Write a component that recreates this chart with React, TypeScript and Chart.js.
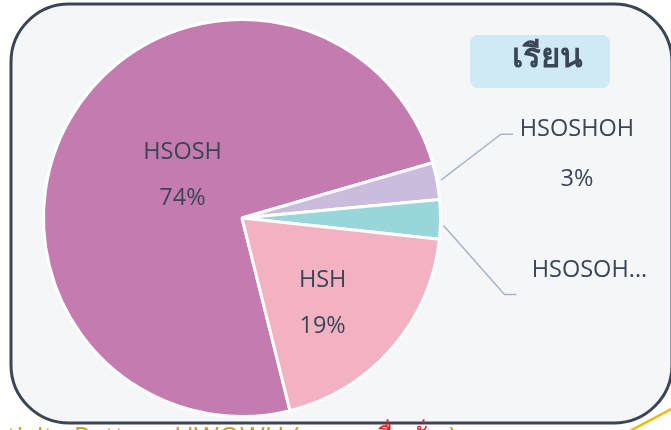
import React, { useEffect, useRef } from "react";
import { Chart, registerables } from "chart.js";

Chart.register(...registerables);

const categories = ["HSOSH", "HSOSHOH", "HSOSOH", "HSH"];
const shares = [74.4, 3.0, 3.2, 19.4];
const sliceColors = ["#c47bb0", "#c9bcdc", "#98d6db", "#f2b2c2"];
const titleText = "เรียน";
const footerLead = "ctivity Pattern HWOWH (";
const footerThai = "ความเชื่อมั่น";
const footerTail = ")";

const INK = "#3a4556";
const FONT = "'Open Sans', 'Noto Sans', sans-serif";

function roundRect(ctx: CanvasRenderingContext2D, x: number, y: number, w: number, h: number, r: number) {
  ctx.beginPath();
  ctx.moveTo(x + r, y);
  ctx.lineTo(x + w - r, y);
  ctx.arcTo(x + w, y, x + w, y + r, r);
  ctx.lineTo(x + w, y + h - r);
  ctx.arcTo(x + w, y + h, x + w - r, y + h, r);
  ctx.lineTo(x + r, y + h);
  ctx.arcTo(x, y + h, x, y + h - r, r);
  ctx.lineTo(x, y + r);
  ctx.arcTo(x, y, x + r, y, r);
  ctx.closePath();
}

const framePlugin = {
  id: "frame",
  beforeDraw(chart: any) {
    const ctx = chart.ctx as CanvasRenderingContext2D;
    ctx.save();
    roundRect(ctx, 11, 4, 661, 419, 58);
    ctx.fillStyle = "#f4f6f8";
    ctx.fill();
    ctx.lineWidth = 3;
    ctx.strokeStyle = INK;
    ctx.stroke();

    // title box
    roundRect(ctx, 470, 35, 140, 53, 8);
    ctx.fillStyle = "#d0eaf5";
    ctx.fill();
    ctx.fillStyle = INK;
    ctx.font = `bold 33px ${FONT}`;
    ctx.textAlign = "center";
    ctx.textBaseline = "middle";
    ctx.fillText(titleText, 547, 58);

    // footer text (cut off at bottom)
    ctx.textAlign = "left";
    ctx.textBaseline = "alphabetic";
    ctx.font = `27px ${FONT}`;
    let x = -6;
    ctx.fillStyle = "#c9a21c";
    ctx.fillText(footerLead, x, 447);
    x += ctx.measureText(footerLead).width;
    ctx.fillStyle = "#e8201c";
    ctx.fillText(footerThai, x, 447);
    x += ctx.measureText(footerThai).width;
    ctx.fillStyle = "#c9a21c";
    ctx.fillText(footerTail, x + 4, 447);

    // yellow stroke bottom-right
    ctx.beginPath();
    ctx.moveTo(628, 432);
    ctx.lineTo(673, 408);
    ctx.lineWidth = 2.5;
    ctx.strokeStyle = "#f5b800";
    ctx.stroke();
    ctx.restore();
  },
};

const labelPlugin = {
  id: "sliceLabels",
  afterDatasetsDraw(chart: any) {
    const ctx = chart.ctx as CanvasRenderingContext2D;
    const meta = chart.getDatasetMeta(0);
    const data = chart.data.datasets[0].data as number[];
    ctx.save();
    ctx.fillStyle = INK;
    ctx.font = `23.5px ${FONT}`;
    ctx.textAlign = "center";
    ctx.textBaseline = "middle";
    const inner: Record<number, [number, number]> = { 0: [0.37, 6], 3: [0.59, 5.4] };
    meta.data.forEach((arc: any, i: number) => {
      const r = arc.outerRadius;
      if (inner[i] !== undefined) {
        const [f, shift] = inner[i];
        const mid = (arc.startAngle + arc.endAngle) / 2 + (shift * Math.PI) / 180;
        const cx = arc.x + Math.cos(mid) * r * f;
        const cy = arc.y + Math.sin(mid) * r * f;
        ctx.fillText(String(chart.data.labels[i]), cx, cy - 23);
        ctx.fillText(`${Math.round(data[i])}%`, cx, cy + 23);
      }
    });
    // leader lines for small slices
    ctx.strokeStyle = "#a9b5c6";
    ctx.lineWidth = 1.5;
    const a1 = meta.data[1];
    const m1 = (a1.startAngle + a1.endAngle) / 2;
    const s1x = a1.x + Math.cos(m1) * (a1.outerRadius + 4);
    const s1y = a1.y + Math.sin(m1) * (a1.outerRadius + 4);
    ctx.beginPath();
    ctx.moveTo(s1x, s1y);
    ctx.lineTo(s1x + 60, s1y - 46);
    ctx.lineTo(s1x + 72, s1y - 46);
    ctx.stroke();
    ctx.fillText(String(chart.data.labels[1]), s1x + 136, s1y - 51);
    ctx.fillText(`${Math.round(data[1])}%`, s1x + 136, s1y - 1);

    const a2 = meta.data[2];
    const m2 = (a2.startAngle + a2.endAngle) / 2;
    const s2x = a2.x + Math.cos(m2) * (a2.outerRadius + 3);
    const s2y = a2.y + Math.sin(m2) * (a2.outerRadius + 3) + 6;
    ctx.beginPath();
    ctx.moveTo(s2x, s2y);
    ctx.lineTo(s2x + 61, s2y + 69);
    ctx.lineTo(s2x + 73, s2y + 69);
    ctx.stroke();
    ctx.fillText(String(chart.data.labels[2]) + "...", s2x + 146, s2y + 45);
    ctx.restore();
  },
};

export default function App() {
  const ref = useRef<HTMLCanvasElement | null>(null);
  useEffect(() => {
    if (!ref.current) return;
    const chart = new Chart(ref.current, {
      type: "pie",
      data: {
        labels: categories,
        datasets: [
          {
            data: shares,
            backgroundColor: sliceColors,
            borderColor: "#ffffff",
            borderWidth: 3,
            hoverOffset: 0,
          },
        ],
      },
      options: {
        animation: false,
        responsive: false,
        rotation: 166,
        layout: { padding: { left: 42, top: 18, right: 229, bottom: 12 } },
        plugins: { legend: { display: false }, tooltip: { enabled: false } },
      },
      plugins: [framePlugin, labelPlugin],
    });
    return () => chart.destroy();
  }, []);
  return (
    <div style={{ position: "fixed", left: 0, top: 0, width: 671, height: 430 }}>
      <canvas ref={ref} width={671} height={430} style={{ display: "block" }} />
    </div>
  );
}
